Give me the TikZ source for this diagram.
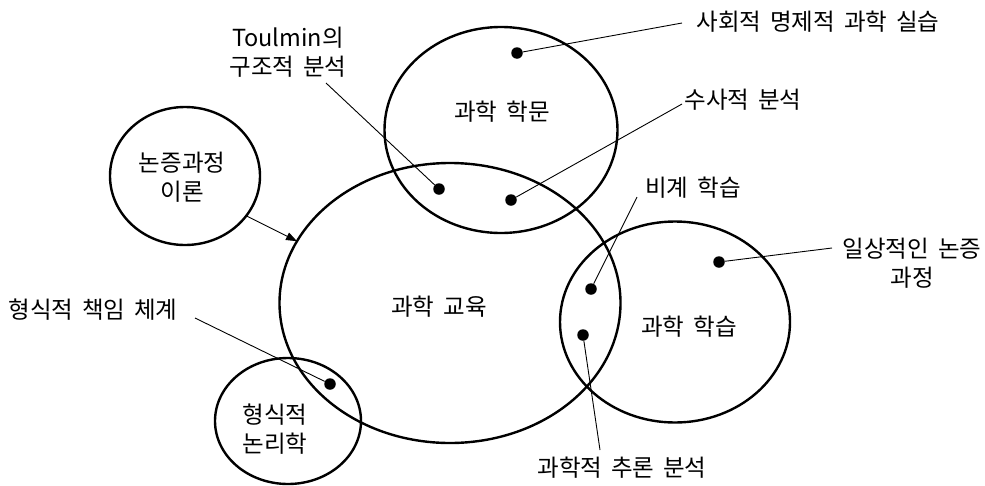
\documentclass[tikz,border=0pt]{standalone}
\usepackage{fontspec}
\setmainfont{Noto Sans CJK KR}[WordSpace=1.7]
\usetikzlibrary{shapes.geometric,arrows.meta}
\begin{document}
\begin{tikzpicture}[x=1pt,y=-1pt,
  region/.style={draw,ellipse,line width=2.4pt,inner sep=0pt,outer sep=0pt},
  lbl/.style={inner sep=0pt,align=center,font=\fontsize{23.5}{29}\selectfont},
  dot/.style={circle,fill,inner sep=0pt,minimum size=11.5pt},
  leader/.style={line width=0.9pt}]
\useasboundingbox (0,0) rectangle (985,485);
% regions
\node[region,minimum width=233pt,minimum height=206pt] (disc) at (501,130) {};
\node[region,minimum width=341pt,minimum height=280pt] (edu) at (450,303) {};
\node[region,minimum width=230pt,minimum height=201pt] (learn) at (675,322) {};
\node[region,minimum width=150pt,minimum height=138pt] (arg) at (185,176) {};
\node[region,minimum width=146pt,minimum height=126pt] (logic) at (288,421) {};
% region labels
\node[lbl] (tdisc) at (502,112) {과학 학문};
\node[lbl] (tedu) at (439,307) {과학 교육};
\node[lbl] (tlearn) at (689,327) {과학 학습};
\node[lbl] (targ) at (182,177) {논증과정\\이론};
\node[lbl] (tlogic) at (275,429) {형식적\\논리학};
% arrow
\draw[leader,-{Triangle[length=11pt,width=8pt]}] (arg.-33) -- (edu.158);
% dots
\node[dot] (d1) at (517,53) {};
\node[dot] (d2) at (439,189) {};
\node[dot] (d3) at (511,200) {};
\node[dot] (d4) at (591,289) {};
\node[dot] (d5) at (719,262) {};
\node[dot] (d6) at (583,335) {};
\node[dot] (d7) at (330,384) {};
% outer labels
\node[lbl] (l1) at (818,22) {사회적 명제적 과학 실습};
\node[lbl] (l2) at (288,52) {Toulmin의\\구조적 분석};
\node[lbl] (l3) at (743,100) {수사적 분석};
\node[lbl] (l4) at (693,188) {비계 학습};
\node[lbl] (l5) at (912,263) {일상적인 논증\\과정};
\node[lbl] (l6) at (622,468) {과학적 추론 분석};
\node[lbl] (l7) at (93,310) {형식적 책임 체계};
% leader ends
\coordinate (e1) at (682,23);
\coordinate (e2) at (326,83);
\coordinate (e3) at (682,104);
\coordinate (e4) at (637,197);
\coordinate (e5) at (832,248);
\coordinate (e6) at (600,450);
\coordinate (e7) at (195,318);
\draw[leader] (d1) -- (e1);
\draw[leader] (d2) -- (e2);
\draw[leader] (d3) -- (e3);
\draw[leader] (d4) -- (e4);
\draw[leader] (d5) -- (e5);
\draw[leader] (d6) -- (e6);
\draw[leader] (d7) -- (e7);
\end{tikzpicture}
\end{document}
